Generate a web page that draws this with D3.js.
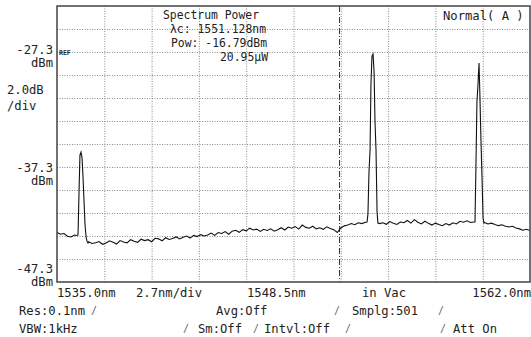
<!DOCTYPE html>
<html>
<head>
<meta charset="utf-8">
<script src="https://cdn.jsdelivr.net/npm/d3@7"></script>
<style>
  html, body { margin: 0; padding: 0; background: #fff; }
  svg { display: block; }
  text { font-family: "DejaVu Sans Mono", "Liberation Mono", monospace; fill: #222; }
</style>
</head>
<body>
<svg id="chart" width="531" height="337"></svg>
<script>
// ---- data ----
const wavelength = [
  1535.0, 1535.2, 1535.4, 1535.6, 1535.8, 1536.0, 1536.1,
  1536.20, 1536.26, 1536.31, 1536.37, 1536.43, 1536.48, 1536.54, 1536.60, 1536.66, 1536.71, 1536.77,
  1536.8, 1537.0, 1537.2, 1537.4, 1537.6, 1537.8, 1538.0, 1538.2, 1538.4, 1538.6, 1538.8,
  1539.0, 1539.2, 1539.4, 1539.6, 1539.8, 1540.0, 1540.2, 1540.4, 1540.6, 1540.8,
  1541.0, 1541.2, 1541.4, 1541.6, 1541.8, 1542.0, 1542.2, 1542.4, 1542.6, 1542.8,
  1543.0, 1543.2, 1543.4, 1543.6, 1543.8, 1544.0, 1544.2, 1544.4, 1544.6, 1544.8,
  1545.0, 1545.2, 1545.4, 1545.6, 1545.8, 1546.0, 1546.2, 1546.4, 1546.6, 1546.8,
  1547.0, 1547.2, 1547.4, 1547.6, 1547.8, 1548.0, 1548.2, 1548.4, 1548.6, 1548.8,
  1549.0, 1549.2, 1549.4, 1549.6, 1549.8, 1550.0, 1550.2, 1550.4, 1550.6, 1550.8,
  1551.0, 1551.2, 1551.4, 1551.6, 1551.8, 1552.0, 1552.2, 1552.4, 1552.6,
  1552.70, 1552.75, 1552.81, 1552.87, 1552.92, 1552.98, 1553.04, 1553.10, 1553.15, 1553.21, 1553.27, 1553.32,
  1553.4, 1553.6, 1553.8, 1554.0, 1554.2, 1554.4, 1554.6, 1554.8,
  1555.0, 1555.2, 1555.4, 1555.6, 1555.8, 1556.0, 1556.2, 1556.4, 1556.6, 1556.8,
  1557.0, 1557.2, 1557.4, 1557.6, 1557.8, 1558.0, 1558.2, 1558.4, 1558.6, 1558.8,
  1558.86, 1558.92, 1558.97, 1559.03, 1559.09, 1559.14, 1559.20, 1559.26, 1559.32, 1559.37,
  1559.4, 1559.6, 1559.8, 1560.0, 1560.2, 1560.4, 1560.6, 1560.8,
  1561.0, 1561.2, 1561.4, 1561.6, 1561.8, 1562.0
];
const power = [
  -43.00, -43.15, -43.08, -43.32, -43.38, -43.22, -43.25,
  -43.21, -39.30, -36.26, -36.00, -36.52, -38.00, -40.17, -42.34, -43.39, -43.73, -43.91,
  -43.80, -43.95, -43.88, -43.78, -44.02, -43.90, -43.72, -43.85, -44.00, -43.70, -43.82,
  -43.90, -43.62, -43.75, -43.85, -43.58, -43.70, -43.62, -43.80, -43.50, -43.55,
  -43.72, -43.45, -43.60, -43.52, -43.38, -43.55, -43.40, -43.30, -43.48, -43.25,
  -43.35, -43.18, -43.30, -43.22, -43.05, -43.25, -43.00, -43.08, -42.92, -43.15,
  -42.88, -42.80, -42.98, -42.75, -42.85, -42.62, -42.78, -42.70, -42.90, -42.72,
  -42.82, -42.68, -42.88, -42.75, -42.58, -42.78, -42.52, -42.62, -42.48, -42.70,
  -42.35, -42.55, -42.62, -42.45, -42.68, -42.58, -42.72, -42.50, -42.65, -42.75,
  -43.00, -42.60, -42.42, -42.35, -42.22, -42.32, -42.15, -42.22, -42.10,
  -42.08, -41.39, -37.74, -35.82, -30.17, -27.65, -27.47, -29.04, -33.21, -35.82, -41.21, -42.17,
  -42.22, -42.15, -42.28, -42.05, -42.20, -42.30, -42.08, -42.15,
  -41.95, -42.18, -41.88, -42.10, -42.25, -42.02, -42.20, -42.35, -42.18, -42.30,
  -42.40, -42.22, -42.35, -42.15, -42.25, -42.02, -42.10, -41.98, -42.12, -42.08,
  -42.08, -36.69, -31.65, -30.17, -28.26, -31.04, -34.95, -38.17, -41.74, -42.17,
  -42.12, -42.25, -42.18, -42.30, -42.40, -42.32, -42.45, -42.52,
  -42.45, -42.60, -42.68, -42.80, -42.72, -42.82
];
const xGrid = [1535.0, 1537.7, 1540.4, 1543.1, 1545.8, 1548.5, 1551.2, 1553.9, 1556.6, 1559.3, 1562.0];
const yGrid = [-47.3, -45.3, -43.3, -41.3, -39.3, -37.3, -35.3, -33.3, -31.3, -29.3, -27.3, -25.3, -23.3];
const yLabels = ["-27.3", "-37.3", "-47.3"];
const centerWavelength = 1551.128;
const headerLines = ["Spectrum Power", "λc: 1551.128nm", "Pow: -16.79dBm", "20.95μW"];

// ---- drawing ----
const svg = d3.select("#chart");
const mL = 57, mR = 530, mT = 6, mB = 282;
const x = d3.scaleLinear().domain([1535, 1562]).range([mL, mR]);
const y = d3.scaleLinear().domain([-47.3, -23.3]).range([mB, mT]);

// gridlines
svg.append("g")
  .attr("transform", `translate(0,${mB})`)
  .call(d3.axisBottom(x).tickValues(xGrid.slice(1, -1)).tickSize(-(mB - mT)).tickFormat(""))
  .call(g => g.select(".domain").remove())
  .call(g => g.selectAll("line").attr("stroke", "#8a8a8a").attr("stroke-dasharray", "1,1.5"));
svg.append("g")
  .attr("transform", `translate(${mL},0)`)
  .call(d3.axisLeft(y).tickValues(yGrid.slice(1, -1)).tickSize(-(mR - mL)).tickFormat(""))
  .call(g => g.select(".domain").remove())
  .call(g => g.selectAll("line").attr("stroke", "#8a8a8a").attr("stroke-dasharray", "1,1.5"));

// center wavelength marker
svg.append("line")
  .attr("x1", x(centerWavelength)).attr("x2", x(centerWavelength))
  .attr("y1", mT).attr("y2", mB)
  .attr("stroke", "#333").attr("stroke-width", 1)
  .attr("stroke-dasharray", "6,2,1,2");

// trace
const pts = wavelength.map((w, i) => [w, power[i]]);
svg.append("path")
  .datum(pts)
  .attr("fill", "none")
  .attr("stroke", "#111")
  .attr("stroke-width", 1.1)
  .attr("stroke-linejoin", "miter")
  .attr("d", d3.line().x(d => x(d[0])).y(d => y(d[1])));

// frame
svg.append("rect")
  .attr("x", mL).attr("y", mT)
  .attr("width", mR - mL).attr("height", mB - mT)
  .attr("fill", "none").attr("stroke", "#444").attr("stroke-width", 1.5);

const fs = "12.2px";
function t(txt, px, py, anchor, size) {
  return svg.append("text").attr("x", px).attr("y", py)
    .attr("font-size", size || fs).attr("text-anchor", anchor || "start").text(txt);
}
function slash(px, py) {
  return t("/", px, py).style("fill", "#666").attr("font-size", "10px");
}

// left labels
t(yLabels[0], 53, y(-27.3) + 2, "end");
t("dBm", 53, y(-27.3) + 15, "end");
t("2.0dB", 7, 94);
t("/div", 7, 110);
t(yLabels[1], 53, y(-37.3) + 5, "end");
t("dBm", 53, y(-37.3) + 18, "end");
t(yLabels[2], 53, y(-47.3) - 9, "end");
t("dBm", 53, y(-47.3) + 4, "end");
svg.append("text").attr("x", 59).attr("y", y(-27.3) + 2.5)
  .attr("font-size", "6.5px").attr("font-family", "DejaVu Sans, sans-serif")
  .attr("font-weight", "bold").text("REF");

// header inside plot
const hs = "11.4px";
t(headerLines[0], 163, 19, "start", hs);
t(headerLines[1], 170, 33, "start", hs);
t(headerLines[2], 171, 47, "start", hs);
t(headerLines[3], 220, 61, "start", hs);
t("Normal( A )", 443, 20);

// x axis annotation rows
t("1535.0nm", 57, 297);
t("2.7nm/div", 136, 297);
t("1548.5nm", 247, 297);
t("in Vac", 362, 297);
t("1562.0nm", 531, 297, "end");

t("Res:0.1nm", 19, 315);
slash(91, 314);
t("Avg:Off", 216, 315);
slash(334, 314);
t("Smplg:501", 352, 315);
slash(438, 314);

t("VBW:1kHz", 19, 333);
slash(183, 332);
t("Sm:Off", 198, 333);
slash(253, 332);
t("Intvl:Off", 264, 333);
slash(345, 332);
slash(440, 332);
t("Att On", 453, 333);
</script>
</body>
</html>
